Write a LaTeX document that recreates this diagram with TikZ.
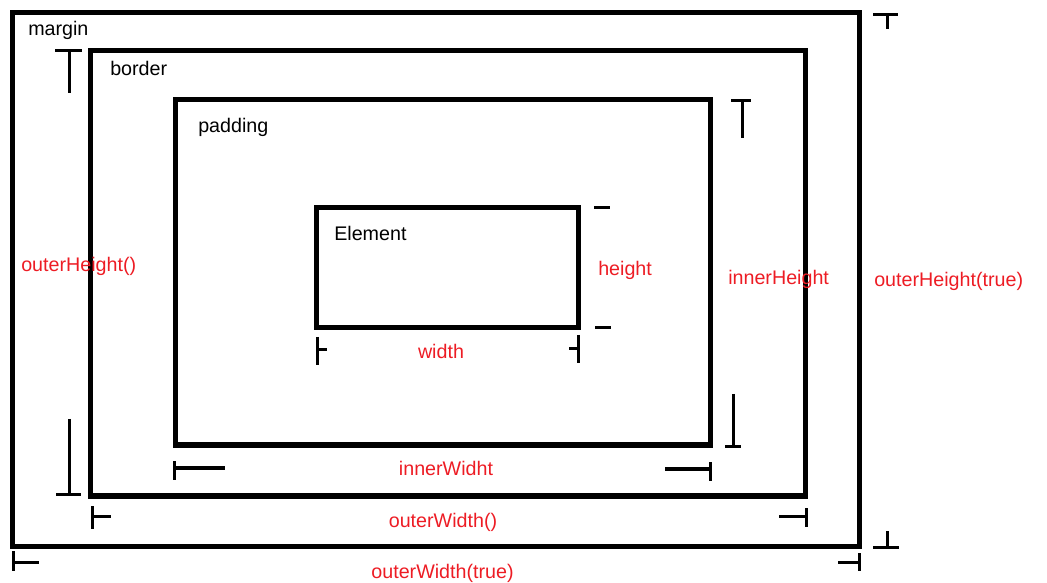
\documentclass[tikz,border=0pt]{standalone}
\usepackage{fontspec}
\setmainfont{Liberation Sans}
\usepackage{xcolor}
\definecolor{dimred}{RGB}{237,28,36}

\begin{document}
\begin{tikzpicture}[x=0.025cm, y=-0.025cm,
    box/.style={draw, line width=0.125cm},
    tick/.style={line width=0.075cm},
    lbl/.style={inner sep=0pt, anchor=base west,
                font=\fontsize{14}{16}\selectfont},
    dim/.style={lbl, text=dimred},
    dimc/.style={dim, anchor=base}
  ]
    \useasboundingbox (0,0) rectangle (1047,583);
    % the four boxes
    \draw[box] (12.5,12.5) rectangle (859.5,546);
    \draw[box] (90.5,50.5) rectangle (805.5,496);
    \draw[box] (175,100) rectangle (710,445);
    \draw[box] (316,208) rectangle (578,328);
    \node[lbl] (margin) at (28,36) {margin};
    \node[lbl] (border) at (110,76) {border};
    \node[lbl] (padding) at (198,133) {padding};
    \node[lbl] (elem) at (334,241) {Element};

    % outerHeight()
    \draw[tick] (55,50.5) -- (82,50.5); \draw[tick] (69,50.5) -- (69,93);
    \draw[tick] (69,419) -- (69,494); \draw[tick] (56,494) -- (81,494);
    \node[dim] (oh) at (21,272) {outerHeight()};
    % height
    \draw[tick] (594,208) -- (610,208); \draw[tick] (595,328) -- (611,328);
    \node[dim] (h) at (598,276) {height};
    % innerHeight
    \draw[tick] (731,100.5) -- (751,100.5); \draw[tick] (742,100.5) -- (742,138);
    \draw[tick] (733,394) -- (733,446.5); \draw[tick] (725,446.5) -- (741,446.5);
    \node[dim] (ih) at (728,285) {innerHeight};
    % outerHeight(true)
    \draw[tick] (873,15) -- (898,15); \draw[tick] (887,15) -- (887,29);
    \draw[tick] (887,531) -- (887,547); \draw[tick] (873,547) -- (899,547);
    \node[dim] (oht) at (874,287) {outerHeight(true)};

    % width
    \draw[tick] (317.5,337) -- (317.5,365); \draw[tick] (317.5,350) -- (327,350);
    \draw[tick] (578,335) -- (578,363); \draw[tick] (569,349) -- (578,349);
    \node[dimc] (w) at (441,359) {width};
    % innerWidht
    \draw[tick] (174,461) -- (174,480); \draw[tick] (174,468) -- (225,468);
    \draw[tick] (710.5,462) -- (710.5,481); \draw[tick] (665,469) -- (710.5,469);
    \node[dimc] (iw) at (446,476) {innerWidht};
    % outerWidth()
    \draw[tick] (92,506) -- (92,529); \draw[tick] (92,516.5) -- (111,516.5);
    \draw[tick] (806.5,508) -- (806.5,527); \draw[tick] (779,516.5) -- (806.5,516.5);
    \node[dimc] (ow) at (443,527) {outerWidth()};
    % outerWidth(true)
    \draw[tick] (13.5,551) -- (13.5,571); \draw[tick] (13.5,562) -- (39,562);
    \draw[tick] (859.5,553) -- (859.5,571); \draw[tick] (838,562) -- (859.5,562);
    \node[dimc] (owt) at (442.5,578) {outerWidth(true)};
  \end{tikzpicture}
\end{document}
